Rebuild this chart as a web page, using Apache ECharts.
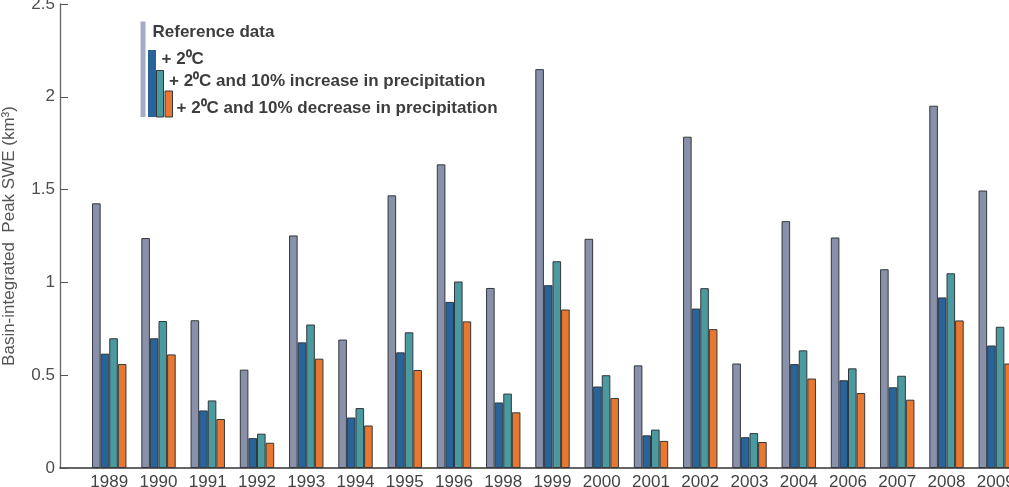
<!DOCTYPE html>
<html>
<head>
<meta charset="UTF-8">
<style>
  body { margin: 0; background: #fff; }
  #chart { width: 1009px; height: 487px; }
</style>
</head>
<body>
<div id="chart"></div>
<script src="https://cdn.jsdelivr.net/npm/echarts@6/dist/echarts.min.js"></script>
<script>
// years shown on the x axis (1997 and 2005 are not in the figure)
var years = ['1989', '1990', '1991', '1992', '1993', '1994', '1995', '1996', '1998', '1999',
             '2000', '2001', '2002', '2003', '2004', '2006', '2007', '2008', '2009'];
// basin-integrated peak SWE, km3
var referenceData = [1.426, 1.239, 0.796, 0.530, 1.253, 0.692, 1.469, 1.636, 0.970, 2.149,
                     1.235, 0.553, 1.785, 0.563, 1.330, 1.242, 1.071, 1.952, 1.495];
var plus2C = [0.616, 0.699, 0.310, 0.161, 0.677, 0.272, 0.623, 0.895, 0.353, 0.985,
              0.439, 0.176, 0.859, 0.166, 0.560, 0.473, 0.435, 0.919, 0.660];
var plus2CWetter = [0.699, 0.792, 0.364, 0.185, 0.773, 0.323, 0.731, 1.005, 0.401, 1.114,
                    0.500, 0.207, 0.969, 0.188, 0.634, 0.537, 0.497, 1.049, 0.761];
var plus2CDrier = [0.560, 0.612, 0.264, 0.136, 0.589, 0.229, 0.528, 0.790, 0.300, 0.854,
                   0.377, 0.146, 0.748, 0.140, 0.482, 0.404, 0.368, 0.795, 0.563];
var seriesNames = ['Reference data', '+ 2\u2070C', '+ 2\u2070C and 10% increase in precipitation',
                   '+ 2\u2070C and 10% decrease in precipitation'];
var colors = ['#8990a9', '#28649a', '#4a9a9f', '#e8772f'];

var font = "'Liberation Sans', Arial, sans-serif";

function toPoints(arr) {
  return arr.map(function (v, i) { return [i, v]; });
}

function barSeries(name, arr, color) {
  return {
    name: name,
    type: 'bar',
    data: toPoints(arr),
    barWidth: 8.6,
    barGap: '0%',
    itemStyle: { color: color, borderColor: '#33383d', borderWidth: 1 },
    emphasis: { disabled: true }
  };
}

// legend drawn as the staircase of swatches used in the figure
var legendGraphics = [
  { type: 'rect', shape: { x: 140.5, y: 21.5, width: 5, height: 95.5 }, style: { fill: '#a4abc2' } },
  { type: 'rect', shape: { x: 148, y: 50, width: 8, height: 67 }, style: { fill: '#28649a' } },
  { type: 'rect', shape: { x: 156.5, y: 70.5, width: 7, height: 46.5 }, style: { fill: '#4a9a9f', stroke: '#33383d', lineWidth: 1 } },
  { type: 'rect', shape: { x: 165, y: 91, width: 7.5, height: 26 }, style: { fill: '#e8772f', stroke: '#33383d', lineWidth: 1 } }
];
var legendTextPos = [[152.5, 32.5], [161.5, 59], [169, 81], [176.5, 108]];
seriesNames.forEach(function (n, i) {
  legendGraphics.push({
    type: 'text',
    style: {
      text: n, x: legendTextPos[i][0], y: legendTextPos[i][1],
      verticalAlign: 'middle', fill: '#3d3d3d',
      fontSize: 17, fontWeight: 'bold', fontFamily: font
    }
  });
});

var chart = echarts.init(document.getElementById('chart'));
chart.setOption({
  animation: false,
  backgroundColor: '#fff',
  grid: { left: 60, right: -36, top: 4, bottom: 19, containLabel: false, outerBoundsMode: 'none' },
  xAxis: {
    type: 'value',
    min: -1,
    max: 19,
    interval: 1,
    splitLine: { show: false },
    axisTick: { show: false },
    axisLine: { onZero: false, lineStyle: { color: '#333', width: 1.5 } },
    axisLabel: {
      margin: 6,
      fontSize: 17,
      color: '#444',
      fontFamily: font,
      showMinLabel: true,
      showMaxLabel: true,
      hideOverlap: false,
      formatter: function (v) { return years[v] || ''; }
    }
  },
  yAxis: {
    type: 'value',
    min: 0,
    max: 2.5,
    interval: 0.5,
    name: 'Basin-integrated  Peak SWE (km\u00b3)',
    nameLocation: 'middle',
    nameGap: 42,
    nameTextStyle: { fontSize: 17, color: '#555', fontFamily: font },
    splitLine: { show: false },
    axisLine: { show: true, onZero: false, lineStyle: { color: '#666', width: 1.3 } },
    axisTick: { show: true, inside: true, length: 8, lineStyle: { color: '#555' } },
    axisLabel: {
      margin: 5,
      fontSize: 17,
      color: '#4d4d4d',
      fontFamily: font,
      formatter: function (v) { return String(v); }
    }
  },
  graphic: legendGraphics,
  series: [
    barSeries(seriesNames[0], referenceData, colors[0]),
    barSeries(seriesNames[1], plus2C, colors[1]),
    barSeries(seriesNames[2], plus2CWetter, colors[2]),
    barSeries(seriesNames[3], plus2CDrier, colors[3])
  ]
});
</script>
</body>
</html>
